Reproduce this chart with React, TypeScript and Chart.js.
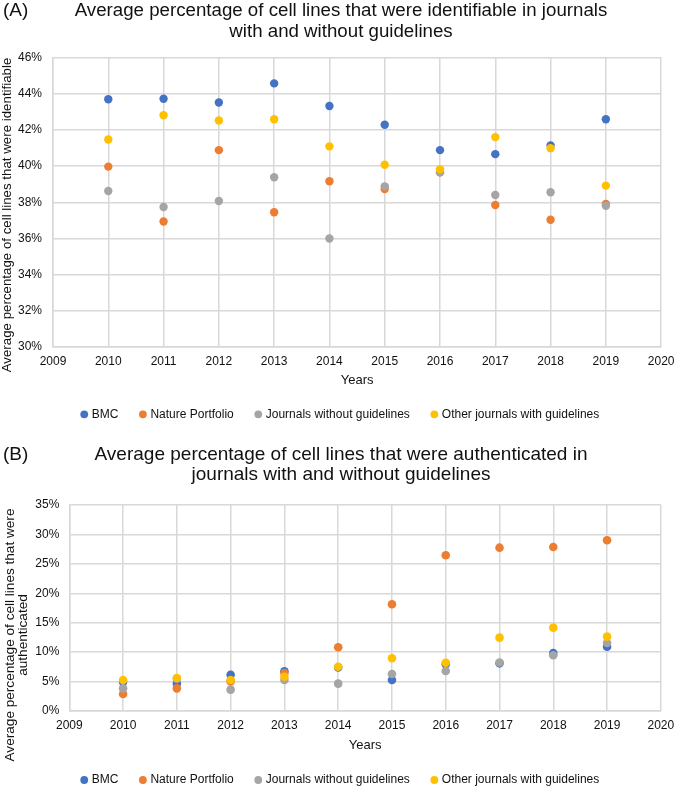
import React, { useEffect, useRef } from "react";
import { Chart, registerables } from "chart.js";

Chart.register(...registerables);

const FONT = "'Liberation Sans', Arial, Helvetica, sans-serif";
const TEXT_COLOR = "#111111";
const GRID_COLOR = "#d8d8d8";

// ---------- shared ----------
const years = [2010, 2011, 2012, 2013, 2014, 2015, 2016, 2017, 2018, 2019];
const seriesNames = ["BMC", "Nature Portfolio", "Journals without guidelines", "Other journals with guidelines"];
const seriesColors = ["#4472C4", "#ED7D31", "#A5A5A5", "#FFC000"];
const xAxisRange = [2009, 2020];

// ---------- panel A: identifiable ----------
const titleA = ["Average percentage of cell lines that were identifiable in journals", "with and without guidelines"];
const yTitleA = ["Average percentage of cell lines that were identifiable"];
const yRangeA = [30, 46];
const yStepA = 2;
const identBMC = [43.69, 43.72, 43.51, 44.57, 43.32, 42.28, 40.88, 40.66, 41.14, 42.59];
const identNature = [39.97, 36.94, 40.88, 37.45, 39.16, 38.73, 39.65, 37.85, 37.03, 37.91];
const identWithout = [38.62, 37.74, 38.07, 39.38, 36.0, 38.88, 39.65, 38.4, 38.55, 37.81];
const identOther = [41.47, 42.81, 42.52, 42.59, 41.09, 40.07, 39.82, 41.6, 40.99, 38.92];

// ---------- panel B: authenticated ----------
const titleB = ["Average percentage of cell lines that were authenticated in", "journals with and without guidelines"];
const yTitleB = ["Average percentage of cell lines that were", "authenticated"];
const yRangeB = [0, 35];
const yStepB = 5;
const authBMC = [4.95, 4.65, 6.17, 6.74, 7.4, 5.27, 7.95, 8.1, 9.85, 10.93];
const authNature = [2.89, 3.85, 5.04, 6.45, 10.82, 18.13, 26.45, 27.75, 27.86, 29.0];
const authWithout = [3.85, 5.5, 3.63, 5.27, 4.65, 6.29, 6.8, 8.25, 9.46, 11.55];
const authOther = [5.27, 5.6, 5.27, 5.83, 7.53, 8.95, 8.21, 12.46, 14.16, 12.63];

const sideTextPlugin = {
  id: "sideText",
  afterDraw(chart: any, _args: any, opts: any) {
    const ctx = chart.ctx;
    ctx.save();
    ctx.fillStyle = opts.color;
    ctx.font = `${opts.panelSize}px ${FONT}`;
    ctx.textAlign = "left";
    ctx.textBaseline = "middle";
    ctx.fillText(opts.panel, opts.panelX, opts.panelY);
    ctx.font = `${opts.ySize}px ${FONT}`;
    ctx.textAlign = "center";
    (opts.yLines as string[]).forEach((line, i) => {
      ctx.save();
      ctx.translate(opts.yX[i], opts.yY);
      ctx.rotate(-Math.PI / 2);
      ctx.fillText(line, 0, 0);
      ctx.restore();
    });
    ctx.restore();
  },
};

function buildConfig(p: any) {
  const n = p.series.length;
  const data = p.series.map((vals: number[], i: number) => ({
    label: seriesNames[i],
    data: years.map((y, j) => ({ x: y, y: vals[j] })),
    order: n - 1 - i,
    backgroundColor: seriesColors[i],
    borderColor: seriesColors[i],
    pointBackgroundColor: seriesColors[i],
    pointBorderColor: seriesColors[i],
    pointBorderWidth: 0,
    pointRadius: p.pointRadius,
    pointHoverRadius: p.pointRadius,
    showLine: false,
  }));
  return {
    type: "scatter",
    data: { datasets: data },
    plugins: [sideTextPlugin],
    options: {
      animation: false,
      responsive: true,
      maintainAspectRatio: false,
      events: [],
      layout: { padding: p.layoutPadding },
      plugins: {
        tooltip: { enabled: false },
        title: {
          display: true,
          text: p.title,
          color: TEXT_COLOR,
          font: { family: FONT, size: p.titleSize, weight: "normal", lineHeight: p.titleLineHeight },
          padding: p.titlePadding,
        },
        legend: {
          display: true,
          position: "bottom",
          labels: {
            usePointStyle: true,
            pointStyle: "circle",
            boxWidth: 3,
            boxHeight: 5.5,
            padding: 23,
            color: TEXT_COLOR,
            font: { family: FONT, size: 12 },
            sort: (a: any, b: any) => a.datasetIndex - b.datasetIndex,
          },
        },
        sideText: {
          color: TEXT_COLOR,
          panel: p.panel,
          panelSize: 19,
          panelX: 3,
          panelY: p.panelY,
          ySize: p.ySize,
          yLines: p.yLines,
          yX: p.yX,
          yY: p.yY,
        },
      },
      scales: {
        x: {
          type: "linear",
          min: xAxisRange[0],
          max: xAxisRange[1],
          afterFit: (s: any) => {
            s.height = p.xHeight;
          },
          ticks: {
            stepSize: 1,
            padding: p.xTickPad,
            color: TEXT_COLOR,
            font: { family: FONT, size: 12 },
            callback: (v: any) => String(v),
          },
          grid: { color: GRID_COLOR, drawTicks: false, lineWidth: 1.5 },
          border: { color: GRID_COLOR, width: 1.5 },
          title: {
            display: true,
            text: "Years",
            color: TEXT_COLOR,
            font: { family: FONT, size: 13, lineHeight: p.xTitleLH },
            padding: 0,
          },
        },
        y: {
          type: "linear",
          min: p.yRange[0],
          max: p.yRange[1],
          afterFit: (s: any) => {
            s.width = p.yWidth;
          },
          ticks: {
            stepSize: p.yStep,
            padding: p.yTickPad,
            color: TEXT_COLOR,
            font: { family: FONT, size: 12 },
            callback: (v: any) => `${v}%`,
          },
          grid: { color: GRID_COLOR, drawTicks: false, lineWidth: 1.5 },
          border: { color: GRID_COLOR, width: 1.5 },
        },
      },
    },
  };
}

function ChartPanel({ config, top, height }: { config: any; top: number; height: number }) {
  const ref = useRef<HTMLCanvasElement | null>(null);
  useEffect(() => {
    if (!ref.current) return;
    const chart = new Chart(ref.current, config);
    return () => chart.destroy();
  }, [config]);
  return (
    <div style={{ position: "absolute", left: 0, top, width: 682, height }}>
      <canvas ref={ref} />
    </div>
  );
}

const configA = buildConfig({
  series: [identBMC, identNature, identWithout, identOther],
  pointRadius: 4.2,
  title: titleA,
  titleSize: 18.7,
  titleLineHeight: 1.15,
  titlePadding: { top: 0, bottom: 14.5 },
  layoutPadding: { top: 0, left: 14, right: 14, bottom: 9.7 },
  panel: "(A)",
  panelY: 10.7,
  ySize: 13.3,
  yLines: yTitleA,
  yX: [7.5],
  yY: 215,
  xHeight: 38.3,
  xTickPad: 7.5,
  xTitleLH: 0.815,
  yRange: yRangeA,
  yStep: yStepA,
  yWidth: 39,
  yTickPad: 11,
});

const configB = buildConfig({
  series: [authBMC, authNature, authWithout, authOther],
  pointRadius: 4.3,
  title: titleB,
  titleSize: 19,
  titleLineHeight: 1.0526,
  titlePadding: { top: 5.1, bottom: 19.9 },
  layoutPadding: { top: 0, left: 16, right: 16, bottom: 14 },
  panel: "(B)",
  panelY: 15.1,
  ySize: 13.6,
  yLines: yTitleB,
  yX: [10, 23.5],
  yY: 195,
  xHeight: 40,
  xTickPad: 7.8,
  xTitleLH: 0.923,
  yRange: yRangeB,
  yStep: yStepB,
  yWidth: 53.3,
  yTickPad: 10,
});

export default function App() {
  return (
    <div
      style={{
        position: "fixed",
        left: 0,
        top: 0,
        width: 682,
        height: 787,
        overflow: "hidden",
        background: "#ffffff",
      }}
    >
      <ChartPanel config={configA} top={0} height={440} />
      <ChartPanel config={configB} top={440} height={370} />
    </div>
  );
}
